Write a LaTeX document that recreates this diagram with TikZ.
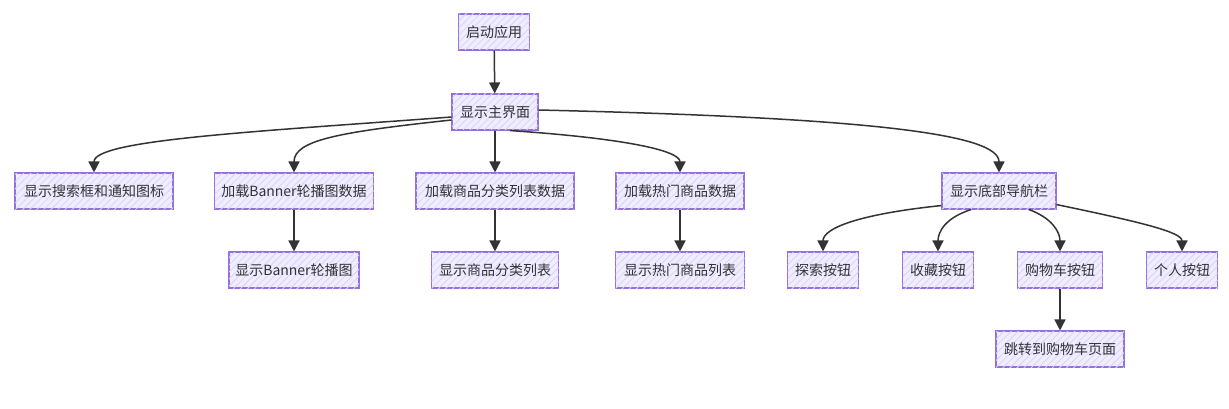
\documentclass[tikz,border=0pt]{standalone}
\usepackage{fontspec}
\setmainfont{Noto Sans CJK SC}
\usetikzlibrary{arrows.meta,patterns.meta}
\definecolor{boxfill}{HTML}{EFEDFF}
\definecolor{hatch}{HTML}{DAD3FA}
\definecolor{boxline}{HTML}{9370DB}
\definecolor{ink}{HTML}{333333}
\tikzset{
  fc/.style={draw=boxline, line width=1.1pt, fill=boxfill,
    postaction={pattern={Lines[angle=45,distance=5pt,line width=0.8pt]}, pattern color=hatch},
    text=ink, font=\fontsize{14}{16}\selectfont, minimum height=36pt, inner xsep=6pt, inner ysep=0pt},
  link/.style={draw=ink, line width=1.5pt, -{Triangle[length=11pt,width=11pt]}},
}
\begin{document}
\begin{tikzpicture}[x=1pt,y=-1pt]
\useasboundingbox[fill=white] (0,0) rectangle (1229,409);
\node[fc, minimum width=71pt] (start) at (494,32) {启动应用};
\node[fc, minimum width=86pt] (main) at (495,112) {显示主界面};
\node[fc, minimum width=158pt] (search) at (94,191) {显示搜索框和通知图标};
\node[fc, minimum width=159pt] (lban) at (294,191) {加载Banner轮播图数据};
\node[fc, minimum width=130pt] (sban) at (294,270) {显示Banner轮播图};
\node[fc, minimum width=158pt] (lcat) at (495,191) {加载商品分类列表数据};
\node[fc, minimum width=127pt] (scat) at (495,270) {显示商品分类列表};
\node[fc, minimum width=128pt] (lhot) at (680,191) {加载热门商品数据};
\node[fc, minimum width=129pt] (shot) at (680,270) {显示热门商品列表};
\node[fc, minimum width=114pt] (nav) at (999,191) {显示底部导航栏};
\node[fc, minimum width=71pt] (explore) at (823,270) {探索按钮};
\node[fc, minimum width=71pt] (fav) at (938,270) {收藏按钮};
\node[fc, minimum width=85pt] (cart) at (1060,270) {购物车按钮};
\node[fc, minimum width=71pt] (me) at (1182,270) {个人按钮};
\node[fc, minimum width=128pt] (cartpage) at (1060,349) {跳转到购物车页面};

\draw[link] (start) -- (main);
\draw[link] ([yshift=-5pt]main.west) .. controls (250,132) and (94,140) .. (search.north);
\draw[link] ([yshift=-8pt]main.west) .. controls (340,132) and (294,140) .. (lban.north);
\draw[link] (main) -- (lcat);
\draw[link] ([xshift=15pt]main.south) .. controls (620,138) and (680,150) .. (lhot.north);
\draw[link] ([yshift=2pt]main.east) .. controls (880,118) and (999,135) .. (nav.north);
\draw[link] (lban) -- (sban);
\draw[link] (lcat) -- (scat);
\draw[link] (lhot) -- (shot);
\draw[link] ([yshift=4pt]nav.south west) .. controls (860,214) and (823,228) .. (explore.north);
\draw[link] ([xshift=-28pt]nav.south) .. controls (945,218) and (938,232) .. (fav.north);
\draw[link] ([xshift=30pt]nav.south) .. controls (1052,218) and (1060,232) .. (cart.north);
\draw[link] ([yshift=5pt]nav.south east) .. controls (1140,222) and (1182,232) .. (me.north);
\draw[link] (cart) -- (cartpage);
\end{tikzpicture}
\end{document}
